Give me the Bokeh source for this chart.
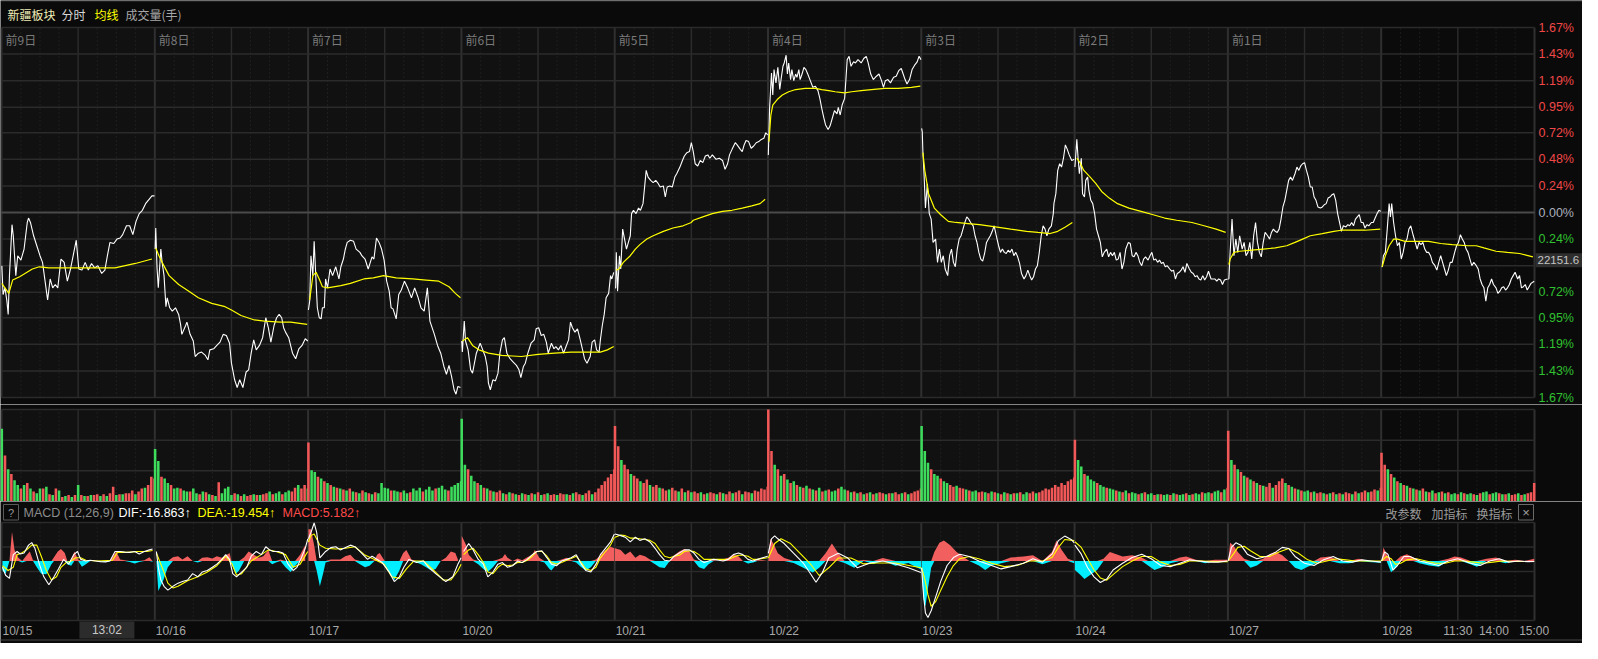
from bokeh.plotting import figure
from bokeh.layouts import column
from bokeh.models import Range1d
from bokeh.core.properties import value
from bokeh.embed import file_html
from bokeh.resources import INLINE

# ---------------- data ----------------
dates = ["10/15", "10/16", "10/17", "10/20", "10/21", "10/22", "10/23", "10/24", "10/27", "10/28"]
day_tags = ["前9日", "前8日", "前7日", "前6日", "前5日", "前4日", "前3日", "前2日", "前1日", ""]
pct_ticks = [1.67, 1.43, 1.19, 0.95, 0.72, 0.48, 0.24, 0.0, -0.24, -0.48, -0.72, -0.95, -1.19, -1.43, -1.67]
last_day_times = ["11:30", "14:00", "15:00"]
last_day_time_min = [120, 150, 240]
hover_day, hover_min, hover_time = 0, 122, "13:02"
hover_price, hover_pct = "22151.6", -0.43
macd_name = "MACD (12,26,9)"
macd_readout = ["DIF:-16.863↑", "DEA:-19.454↑", "MACD:5.182↑"]
header_items = ["新疆板块", "分时", "均线", "成交量(手)"]
macd_buttons = ["改参数", "加指标", "换指标"]

# intraday price, (minute of day, % change vs previous close)
price_1015 = [(0,-0.48),(2,-0.74),(5,-0.68),(8,-0.80),(10,-0.92),(12,-0.57),(16,-0.11),(18,-0.21),(22,-0.57),(25,-0.39),(30,-0.43),(35,-0.33),(40,-0.09),(42,-0.05),(45,-0.09),(50,-0.21),(55,-0.30),(60,-0.39),(64,-0.45),(68,-0.62),(72,-0.79),(76,-0.60),(80,-0.68),(84,-0.65),(88,-0.68),(93,-0.42),(98,-0.45),(103,-0.62),(108,-0.51),(117,-0.25),(121,-0.51),(126,-0.52),(131,-0.45),(136,-0.52),(141,-0.46),(146,-0.50),(151,-0.48),(157,-0.55),(162,-0.52),(166,-0.39),(170,-0.27),(176,-0.28),(181,-0.24),(186,-0.23),(190,-0.20),(196,-0.12),(201,-0.12),(206,-0.20),(211,-0.08),(216,-0.01),(221,0.02),(226,0.08),(236,0.15),(240,0.15)]
price_1016 = [(0,-0.33),(1,-0.14),(3,-0.50),(5,-0.68),(9,-0.33),(11,-0.45),(14,-0.57),(17,-0.85),(19,-0.77),(23,-0.86),(27,-0.89),(32,-0.86),(37,-0.92),(40,-1.01),(42,-1.10),(48,-1.02),(50,-0.99),(55,-1.10),(60,-1.16),(63,-1.30),(68,-1.27),(73,-1.26),(79,-1.29),(83,-1.33),(86,-1.24),(92,-1.23),(97,-1.20),(102,-1.17),(107,-1.10),(112,-1.11),(117,-1.18),(120,-1.36),(125,-1.51),(129,-1.58),(133,-1.51),(138,-1.58),(143,-1.44),(147,-1.42),(151,-1.27),(155,-1.15),(159,-1.24),(164,-1.20),(169,-1.13),(174,-0.95),(178,-1.04),(182,-1.17),(187,-1.02),(191,-0.95),(195,-0.92),(199,-0.95),(202,-1.04),(205,-1.08),(210,-1.13),(216,-1.27),(221,-1.32),(226,-1.23),(231,-1.20),(236,-1.14),(240,-1.16)]
price_1017 = [(0,-0.88),(2,-0.80),(4,-0.39),(7,-0.57),(9,-0.26),(12,-0.62),(14,-0.86),(17,-0.95),(20,-0.96),(22,-0.86),(25,-0.86),(27,-0.60),(30,-0.68),(34,-0.51),(38,-0.57),(43,-0.49),(48,-0.60),(51,-0.49),(55,-0.42),(58,-0.33),(61,-0.27),(66,-0.25),(71,-0.26),(75,-0.33),(81,-0.36),(84,-0.39),(89,-0.42),(94,-0.51),(100,-0.40),(103,-0.42),(107,-0.23),(111,-0.27),(115,-0.33),(119,-0.43),(123,-0.62),(127,-0.71),(130,-0.86),(133,-0.87),(138,-0.96),(142,-0.74),(146,-0.70),(151,-0.62),(156,-0.68),(162,-0.77),(167,-0.68),(172,-0.76),(177,-0.86),(182,-0.89),(187,-0.68),(191,-0.98),(198,-1.10),(203,-1.20),(208,-1.27),(213,-1.39),(217,-1.46),(221,-1.38),(225,-1.48),(229,-1.60),(232,-1.64),(235,-1.57),(239,-1.58)]
price_1020 = [(0,-1.16),(1,-1.26),(4,-0.98),(6,-1.16),(10,-1.24),(14,-1.42),(17,-1.45),(19,-1.39),(23,-1.27),(27,-1.21),(29,-1.18),(33,-1.24),(37,-1.30),(40,-1.39),(42,-1.54),(45,-1.60),(49,-1.51),(53,-1.52),(57,-1.45),(60,-1.27),(64,-1.15),(67,-1.13),(71,-1.27),(76,-1.32),(81,-1.35),(86,-1.38),(90,-1.42),(93,-1.49),(97,-1.39),(100,-1.36),(104,-1.27),(109,-1.18),(114,-1.15),(117,-1.05),(121,-1.04),(125,-1.11),(129,-1.10),(133,-1.17),(136,-1.27),(141,-1.18),(145,-1.23),(148,-1.21),(152,-1.24),(156,-1.20),(160,-1.27),(164,-1.21),(168,-1.15),(171,-0.99),(174,-1.04),(178,-1.08),(182,-1.05),(186,-1.14),(190,-1.24),(193,-1.32),(197,-1.36),(202,-1.30),(205,-1.17),(209,-1.15),(212,-1.24),(216,-1.26),(218,-1.15),(221,-1.02),(224,-0.92),(227,-0.77),(231,-0.73),(234,-0.57),(236,-0.60),(239,-0.54)]
price_1021 = [(0,-0.68),(1,-0.68),(2,-0.36),(4,-0.71),(7,-0.39),(9,-0.51),(12,-0.15),(15,-0.24),(18,-0.33),(21,-0.27),(24,-0.21),(26,-0.01),(29,0.02),(33,-0.01),(37,0.04),(40,0.02),(44,0.08),(46,0.20),(49,0.38),(52,0.32),(56,0.29),(60,0.27),(64,0.29),(68,0.26),(71,0.23),(76,0.24),(79,0.14),(82,0.23),(86,0.24),(90,0.23),(94,0.32),(97,0.35),(102,0.41),(106,0.47),(109,0.51),(113,0.54),(117,0.55),(120,0.63),(123,0.55),(126,0.44),(130,0.42),(134,0.47),(138,0.45),(142,0.51),(146,0.52),(149,0.49),(153,0.52),(159,0.48),(164,0.49),(169,0.47),(173,0.39),(177,0.44),(180,0.52),(184,0.57),(189,0.63),(192,0.61),(197,0.57),(200,0.55),(203,0.61),(206,0.65),(210,0.64),(214,0.58),(218,0.60),(222,0.63),(226,0.64),(230,0.66),(234,0.67),(237,0.72),(240,0.70)]
price_1022 = [(0,0.52),(2,0.94),(5,1.26),(7,1.06),(9,1.29),(12,1.17),(15,1.31),(18,1.11),(20,1.20),(23,1.32),(25,1.35),(28,1.42),(30,1.25),(32,1.35),(35,1.20),(37,1.29),(40,1.19),(43,1.25),(45,1.22),(48,1.29),(50,1.20),(53,1.25),(56,1.31),(59,1.29),(62,1.25),(66,1.19),(70,1.13),(74,1.14),(78,1.10),(81,1.03),(84,0.94),(87,0.86),(90,0.79),(94,0.75),(97,0.78),(101,0.86),(104,0.92),(108,0.89),(110,0.95),(113,0.88),(116,0.97),(120,1.03),(122,1.20),(124,1.38),(127,1.41),(130,1.32),(134,1.36),(137,1.35),(141,1.38),(146,1.35),(150,1.39),(154,1.41),(157,1.35),(161,1.25),(165,1.20),(170,1.23),(174,1.25),(178,1.19),(181,1.13),(184,1.19),(188,1.20),(192,1.17),(197,1.22),(201,1.23),(205,1.28),(209,1.30),(212,1.25),(215,1.20),(218,1.16),(222,1.20),(226,1.29),(230,1.33),(234,1.36),(237,1.41),(240,1.38)]
price_1023 = [(0,0.76),(1,0.73),(2,0.55),(4,0.32),(6,0.04),(9,0.26),(12,-0.01),(15,-0.06),(18,-0.27),(22,-0.24),(25,-0.45),(28,-0.33),(31,-0.45),(34,-0.39),(37,-0.51),(41,-0.57),(44,-0.39),(47,-0.33),(50,-0.45),(53,-0.49),(56,-0.33),(59,-0.24),(62,-0.21),(65,-0.15),(68,-0.09),(71,-0.04),(74,-0.06),(77,-0.09),(81,-0.12),(84,-0.21),(87,-0.27),(90,-0.36),(93,-0.42),(96,-0.44),(99,-0.37),(102,-0.27),(105,-0.24),(108,-0.21),(111,-0.17),(114,-0.12),(117,-0.20),(121,-0.30),(124,-0.36),(127,-0.33),(130,-0.36),(133,-0.37),(136,-0.34),(139,-0.36),(142,-0.33),(145,-0.39),(148,-0.36),(151,-0.40),(154,-0.46),(157,-0.55),(161,-0.60),(164,-0.57),(167,-0.52),(170,-0.57),(173,-0.61),(176,-0.58),(179,-0.51),(182,-0.48),(185,-0.36),(188,-0.21),(191,-0.12),(194,-0.15),(197,-0.21),(200,-0.15),(204,-0.12),(207,-0.01),(208,0.08),(211,0.17),(214,0.38),(217,0.44),(220,0.41),(223,0.49),(226,0.61),(229,0.57),(232,0.52),(236,0.47),(240,0.48)]
price_1024 = [(0,0.41),(3,0.66),(5,0.49),(7,0.35),(10,0.49),(12,0.17),(15,0.14),(17,0.29),(20,0.32),(22,0.20),(25,0.11),(28,0.08),(31,-0.01),(34,-0.15),(37,-0.21),(40,-0.27),(43,-0.40),(46,-0.36),(50,-0.33),(53,-0.40),(56,-0.36),(59,-0.39),(62,-0.36),(65,-0.43),(68,-0.42),(71,-0.36),(74,-0.51),(77,-0.45),(80,-0.33),(84,-0.27),(87,-0.28),(90,-0.39),(93,-0.40),(96,-0.36),(99,-0.39),(102,-0.45),(105,-0.48),(108,-0.42),(111,-0.40),(115,-0.43),(118,-0.39),(121,-0.36),(124,-0.43),(127,-0.42),(130,-0.45),(133,-0.43),(136,-0.46),(139,-0.45),(142,-0.49),(145,-0.48),(149,-0.51),(152,-0.53),(155,-0.52),(158,-0.60),(161,-0.55),(164,-0.54),(167,-0.52),(170,-0.49),(173,-0.54),(176,-0.46),(180,-0.51),(183,-0.54),(186,-0.55),(189,-0.58),(192,-0.57),(195,-0.60),(198,-0.61),(201,-0.57),(204,-0.61),(207,-0.58),(210,-0.53),(214,-0.60),(217,-0.60),(220,-0.60),(223,-0.62),(226,-0.60),(229,-0.61),(232,-0.65),(235,-0.61),(240,-0.60)]
price_1027 = [(0,-0.60),(1,-0.60),(3,-0.36),(6,-0.06),(9,-0.39),(12,-0.24),(15,-0.36),(18,-0.21),(22,-0.33),(25,-0.27),(28,-0.39),(31,-0.36),(34,-0.27),(37,-0.42),(40,-0.21),(43,-0.09),(46,-0.27),(49,-0.36),(52,-0.40),(55,-0.27),(58,-0.18),(62,-0.21),(65,-0.24),(68,-0.18),(71,-0.15),(74,-0.17),(77,-0.18),(80,-0.15),(83,-0.06),(86,0.05),(89,0.11),(92,0.20),(95,0.29),(98,0.32),(101,0.29),(105,0.35),(108,0.41),(111,0.38),(114,0.42),(117,0.44),(120,0.45),(123,0.38),(126,0.32),(129,0.23),(132,0.23),(135,0.14),(138,0.11),(141,0.05),(145,0.04),(148,0.05),(151,0.07),(154,0.08),(157,0.13),(160,0.14),(163,0.16),(166,0.17),(169,0.11),(172,-0.01),(175,-0.09),(178,-0.17),(181,-0.12),(185,-0.13),(188,-0.11),(191,-0.12),(194,-0.09),(197,-0.12),(200,-0.06),(203,-0.04),(206,-0.02),(209,-0.09),(212,-0.09),(215,-0.14),(218,-0.11),(221,-0.12),(225,-0.09),(228,-0.09),(231,-0.05),(234,-0.01),(237,0.02),(240,0.01)]
price_1028 = [(0,-0.49),(1,-0.49),(3,-0.39),(6,-0.36),(9,-0.15),(12,0.08),(14,-0.04),(16,0.08),(19,-0.09),(22,-0.21),(25,-0.30),(28,-0.27),(31,-0.42),(34,-0.36),(37,-0.27),(40,-0.24),(43,-0.15),(46,-0.12),(50,-0.21),(53,-0.27),(56,-0.33),(59,-0.27),(62,-0.29),(65,-0.27),(68,-0.33),(71,-0.36),(74,-0.36),(77,-0.39),(80,-0.45),(84,-0.48),(87,-0.52),(90,-0.45),(93,-0.39),(96,-0.45),(99,-0.51),(102,-0.57),(105,-0.52),(108,-0.45),(111,-0.45),(115,-0.36),(118,-0.30),(121,-0.27),(124,-0.20),(127,-0.24),(130,-0.27),(133,-0.33),(136,-0.36),(139,-0.42),(142,-0.48),(145,-0.45),(149,-0.48),(152,-0.51),(155,-0.60),(158,-0.65),(161,-0.68),(164,-0.80),(167,-0.68),(170,-0.65),(173,-0.60),(176,-0.65),(180,-0.68),(183,-0.73),(186,-0.71),(189,-0.68),(192,-0.67),(195,-0.70),(198,-0.68),(201,-0.65),(204,-0.60),(207,-0.57),(210,-0.54),(214,-0.60),(217,-0.57),(220,-0.68),(223,-0.67),(226,-0.65),(229,-0.70),(232,-0.67),(235,-0.64),(240,-0.62)]

# average price line (均线), % change
avg_1015 = [(0,-0.64),(11,-0.73),(17,-0.61),(28,-0.58),(48,-0.51),(59,-0.49),(74,-0.50),(126,-0.50),(178,-0.50),(210,-0.46),(236,-0.42)]
avg_1016 = [(1,-0.32),(6,-0.39),(11,-0.45),(22,-0.57),(37,-0.65),(53,-0.71),(68,-0.77),(89,-0.82),(110,-0.85),(120,-0.88),(135,-0.93),(156,-0.97),(172,-0.98),(197,-0.99),(213,-0.99),(239,-1.01)]
avg_1017 = [(2,-0.79),(7,-0.57),(12,-0.54),(17,-0.60),(22,-0.67),(30,-0.68),(51,-0.66),(66,-0.64),(87,-0.60),(102,-0.59),(118,-0.57),(138,-0.59),(164,-0.60),(185,-0.61),(205,-0.62),(221,-0.67),(231,-0.73),(239,-0.77)]
avg_1020 = [(1,-1.16),(9,-1.13),(17,-1.20),(27,-1.24),(42,-1.27),(63,-1.29),(94,-1.30),(120,-1.28),(146,-1.27),(172,-1.26),(197,-1.26),(218,-1.26),(229,-1.24),(239,-1.21)]
avg_1021 = [(2,-0.52),(6,-0.51),(13,-0.45),(24,-0.39),(32,-0.33),(39,-0.29),(50,-0.24),(60,-0.21),(76,-0.17),(91,-0.14),(107,-0.12),(120,-0.09),(123,-0.07),(138,-0.04),(153,-0.01),(169,0.01),(184,0.02),(200,0.04),(215,0.06),(228,0.08),(236,0.12)]
avg_1022 = [(1,0.64),(4,0.88),(7,0.97),(14,1.02),(22,1.06),(32,1.09),(43,1.11),(58,1.12),(74,1.12),(84,1.11),(95,1.10),(105,1.09),(120,1.08),(131,1.09),(146,1.10),(162,1.11),(183,1.12),(204,1.12),(225,1.13),(239,1.14)]
avg_1023 = [(2,0.54),(5,0.38),(11,0.17),(20,0.04),(30,-0.02),(42,-0.08),(54,-0.09),(73,-0.10),(91,-0.11),(116,-0.13),(140,-0.15),(165,-0.17),(183,-0.18),(202,-0.19),(214,-0.17),(226,-0.13),(237,-0.09)]
avg_1024 = [(3,0.49),(8,0.45),(14,0.38),(24,0.32),(33,0.26),(42,0.19),(54,0.13),(67,0.08),(85,0.04),(104,0.01),(123,-0.02),(141,-0.05),(160,-0.07),(184,-0.09),(203,-0.12),(222,-0.15),(237,-0.18)]
avg_1027 = [(1,-0.47),(3,-0.42),(9,-0.36),(18,-0.35),(37,-0.34),(55,-0.33),(74,-0.32),(92,-0.30),(105,-0.27),(117,-0.24),(129,-0.21),(148,-0.19),(166,-0.17),(178,-0.16),(191,-0.16),(215,-0.16),(239,-0.15)]
avg_1028 = [(1,-0.49),(6,-0.39),(12,-0.30),(19,-0.24),(25,-0.24),(37,-0.26),(56,-0.26),(74,-0.26),(93,-0.28),(111,-0.29),(136,-0.30),(149,-0.30),(161,-0.32),(180,-0.35),(198,-0.36),(217,-0.37),(238,-0.40)]

# volume every 5 minutes (share of panel height; + = up/red, - = down/green)
vol_1015 = [-79,50,-35,30,-23,-18,14,-18,20,-14,11,-9,-14,14,-16,8,-7,14,-12,5,-6,7,-5,7,-18,7,-6,6,-7,7,8,-6,8,-6,9,16,-7,8,-8,9,9,12,-8,11,14,-15,18,27,25]
vol_1016 = [-57,-44,27,-25,-20,18,-14,-15,14,-12,-11,11,-14,-9,8,-11,10,-8,7,-6,21,-9,-14,-16,-7,9,-8,6,-8,6,7,-8,7,-7,8,9,-11,8,-9,-11,8,-10,-12,11,15,-18,14,18,-14]
vol_1017 = [64,-34,-32,27,-25,22,-20,18,-16,15,-14,13,-12,14,-11,10,-9,12,-10,9,-8,10,-9,-20,-15,-14,12,-12,-11,10,-12,-9,10,-14,-12,-15,11,-13,-16,-12,14,-15,-17,-13,12,-16,-18,-20,-22]
vol_1020 = [-90,-40,35,-28,-22,20,-18,15,-14,12,-11,10,12,-9,8,-10,9,-8,7,-9,8,-7,9,-8,10,-7,8,-9,7,8,-7,9,8,-8,7,-9,10,8,-7,9,12,-8,10,14,18,22,26,30,35]
vol_1021 = [82,60,-45,40,35,-30,28,25,-22,20,24,-18,16,18,-15,14,12,-13,15,12,-11,14,-10,12,-10,11,9,-10,8,-9,10,9,-8,10,-9,8,11,-9,10,12,-8,11,10,-9,12,11,14,13,16]
vol_1022 = [100,55,-40,35,-28,30,-24,20,-22,18,-16,15,-17,14,-13,12,-15,11,-12,13,-11,-12,14,-16,-13,12,-10,11,-9,10,-8,9,-10,8,-9,10,9,-8,9,-9,10,8,-9,10,-8,9,11,12,14]
vol_1023 = [-82,-55,-42,35,-30,-28,25,-22,-20,18,16,-17,15,14,-13,12,-11,-12,10,11,-10,9,-11,10,-9,8,-10,9,-8,9,-9,10,-8,-10,9,11,-9,10,12,14,13,15,18,16,20,18,22,24,26]
vol_1024 = [67,-45,-38,30,-28,-24,-22,20,-18,-16,15,-14,-13,12,-11,10,-12,9,-10,-9,8,-9,10,-8,-9,7,-8,8,-7,-8,7,-9,8,-7,-8,9,-7,8,-9,-8,10,-9,-10,9,-11,-12,10,-13,15]
vol_1027 = [77,-45,40,-35,32,-28,26,-24,22,-20,18,-17,16,20,-15,18,22,25,-20,18,-16,14,-13,12,-11,-12,10,-11,9,10,-9,8,-9,10,-8,9,-8,10,9,-8,11,-9,10,12,-10,11,13,-12,15]
vol_1028 = [53,40,-35,30,-26,22,-20,18,-17,15,-14,13,-12,14,-11,10,-12,9,-10,11,-9,10,-8,-9,8,-10,9,-8,-9,8,-7,9,-10,-11,8,-9,-10,9,-8,8,-9,7,8,-9,7,-8,9,10,20]

# MACD: (minute, value)
dif_1015 = [(1,-28),(6,-63),(12,-77),(18,28),(24,42),(29,31),(35,35),(42,70),(47,81),(52,56),(59,-14),(66,-70),(74,-105),(82,-70),(89,-35),(97,7),(105,-14),(113,28),(119,42),(124,7),(132,0),(139,3),(147,0),(155,-3),(163,-4),(170,0),(178,42),(186,42),(193,39),(201,38),(209,42),(216,31),(224,42),(232,49),(237,53)]
dea_1015 = [(1,-21),(10,-42),(18,-28),(24,28),(31,35),(39,49),(47,70),(55,70),(62,21),(70,-42),(78,-84),(86,-70),(93,-28),(101,-7),(109,0),(116,14),(124,14),(132,3),(151,0),(174,3),(182,39),(197,38),(213,42),(228,42),(237,46)]
hist_1015 = [(1,-42),(6,-56),(12,0),(16,129),(20,49),(26,14),(32,-7),(39,25),(44,42),(49,3),(55,-28),(62,-56),(70,-59),(78,-14),(82,17),(88,42),(93,53),(99,35),(103,-14),(109,-21),(114,42),(120,7),(126,-25),(132,-14),(139,3),(151,0),(163,-4),(170,0),(176,28),(180,42),(186,7),(193,3),(201,-4),(209,-11),(216,-4),(224,3),(232,17),(237,-3)]
dif_1016 = [(2,42),(5,-28),(9,-84),(14,-112),(20,-129),(28,-112),(36,-98),(43,-91),(51,-84),(59,-56),(67,-70),(74,-49),(82,-42),(90,-28),(97,-14),(105,7),(111,28),(117,7),(122,-56),(128,-70),(136,-49),(144,-28),(151,21),(159,42),(167,28),(174,63),(180,49),(186,42),(194,42),(201,35),(209,-14),(217,-42),(223,-28),(230,14),(236,56),(240,98)]
dea_1016 = [(2,35),(13,-42),(20,-98),(28,-119),(36,-112),(51,-87),(67,-70),(82,-49),(97,-21),(111,21),(121,-14),(128,-63),(136,-56),(151,0),(167,28),(178,49),(190,42),(205,28),(217,-28),(228,-14),(240,42)]
hist_1016 = [(2,0),(5,-133),(13,-84),(20,-28),(28,17),(36,21),(43,7),(51,21),(59,0),(67,-7),(74,14),(82,17),(90,11),(97,21),(105,14),(113,28),(117,35),(120,-14),(127,-56),(132,-42),(140,17),(147,42),(155,28),(163,14),(170,21),(178,49),(184,-14),(190,-7),(197,7),(205,-28),(213,-49),(220,-21),(228,28),(236,70)]
dif_1017 = [(0,98),(4,126),(9,168),(13,126),(18,14),(27,42),(35,59),(43,63),(50,49),(66,70),(73,63),(81,42),(93,7),(100,21),(116,-7),(127,-49),(135,-91),(143,-70),(150,-28),(158,7),(170,-7),(181,0),(189,-28),(200,-56),(216,-91),(227,-70),(235,-14),(240,14)]
dea_1017 = [(0,84),(4,112),(9,119),(18,70),(27,56),(43,53),(58,56),(73,63),(88,28),(104,7),(119,-14),(131,-70),(143,-77),(154,-35),(166,0),(181,0),(197,-42),(212,-84),(224,-84),(235,-42),(240,-14)]
hist_1017 = [(0,140),(4,140),(9,70),(13,-42),(18,-112),(23,-56),(27,-7),(35,7),(50,7),(58,21),(66,28),(73,7),(81,-14),(89,-28),(96,-21),(104,3),(108,28),(112,35),(120,-14),(127,-49),(135,-84),(143,-42),(149,35),(154,49),(162,7),(170,-7),(177,-14),(185,-28),(193,-42),(200,-35),(208,0),(216,14),(224,42),(231,35),(235,7)]
dif_1020 = [(3,42),(11,77),(18,49),(26,7),(34,-14),(41,-70),(49,-49),(57,-14),(64,-7),(72,-28),(80,-21),(88,0),(95,-7),(103,7),(111,28),(118,42),(126,45),(134,14),(141,-14),(149,-21),(157,0),(165,7),(172,14),(180,28),(188,-14),(195,-42),(203,-49),(211,-14),(218,28),(226,56),(234,84),(240,119)]
dea_1020 = [(3,28),(11,49),(18,56),(26,28),(34,-7),(41,-49),(49,-56),(57,-28),(64,-14),(72,-21),(80,-18),(88,-7),(95,-7),(103,3),(111,21),(118,42),(126,42),(134,21),(141,-7),(149,-14),(157,-7),(165,3),(172,11),(180,21),(188,-7),(195,-35),(203,-42),(211,-28),(218,14),(226,42),(234,70),(240,105)]
hist_1020 = [(0,112),(7,70),(11,28),(18,7),(26,-14),(34,-35),(37,-42),(41,-49),(49,-28),(57,7),(64,14),(68,31),(72,14),(80,0),(88,11),(95,3),(103,17),(111,28),(115,49),(122,14),(130,-7),(138,-35),(141,-42),(149,-14),(157,7),(165,14),(172,3),(180,-7),(188,-28),(195,-42),(203,-28),(211,7),(218,25),(226,49),(234,63),(240,56)]
dif_1021 = [(0,119),(9,112),(16,105),(24,84),(32,105),(39,91),(47,98),(55,84),(63,56),(70,28),(78,3),(86,0),(93,21),(101,35),(109,49),(117,49),(124,35),(132,7),(140,-7),(147,0),(155,7),(163,3),(170,0),(178,7),(186,28),(194,35),(201,28),(209,7),(217,0),(224,7),(232,14),(240,21)]
dea_1021 = [(0,105),(9,115),(16,112),(24,101),(32,101),(39,98),(47,95),(55,91),(63,77),(70,49),(78,21),(86,14),(93,21),(101,25),(109,42),(117,45),(124,42),(132,28),(140,7),(147,7),(155,7),(163,7),(170,7),(178,7),(186,17),(194,25),(201,25),(209,21),(217,7),(224,7),(232,11),(240,14)]
hist_1021 = [(0,56),(9,49),(16,28),(24,42),(32,14),(39,28),(47,21),(55,7),(63,-14),(70,-28),(78,-31),(86,0),(93,25),(101,42),(109,53),(117,42),(124,7),(132,-28),(140,-35),(147,-14),(155,3),(163,0),(170,8),(178,14),(186,28),(194,21),(201,0),(209,-11),(217,-7),(224,3),(232,3),(240,0)]
dif_1022 = [(0,34),(5,98),(10,111),(15,98),(25,77),(40,34),(55,-9),(65,-51),(75,-94),(85,-51),(95,13),(110,34),(125,13),(140,-30),(160,-9),(180,0),(200,-13),(220,-30),(240,-51)]
dea_1022 = [(0,13),(10,77),(20,98),(35,77),(50,34),(65,-9),(80,-64),(95,-30),(110,13),(130,13),(150,-13),(170,-9),(200,-9),(240,-30)]
hist_1022 = [(0,0),(3,98),(8,77),(15,34),(25,13),(40,-9),(55,-30),(70,-51),(80,-30),(90,34),(100,77),(110,34),(120,-9),(135,-30),(150,4),(165,-13),(180,13),(200,-21),(220,-9),(240,-38)]
dif_1023 = [(0,-30),(3,-150),(6,-230),(10,-250),(15,-220),(22,-160),(30,-90),(40,-20),(50,15),(60,30),(75,20),(90,0),(110,-20),(125,-35),(140,-25),(160,-10),(175,10),(190,-5),(205,30),(215,90),(225,110),(235,95),(240,80)]
dea_1023 = [(0,-30),(5,-80),(10,-150),(15,-200),(22,-180),(30,-130),(40,-70),(50,-20),(60,10),(75,20),(90,10),(110,-10),(130,-25),(150,-20),(170,0),(190,0),(205,15),(215,60),(225,95),(240,90)]
hist_1023 = [(0,-40),(3,-170),(6,-200),(10,-120),(15,-30),(20,40),(28,80),(35,90),(45,70),(55,40),(65,20),(75,0),(90,-20),(100,-40),(110,-20),(125,-10),(140,15),(160,20),(175,25),(190,-15),(205,40),(212,90),(220,50),(230,10),(240,-10)]
dif_1024 = [(0,70),(10,30),(20,-30),(30,-70),(40,-95),(50,-80),(60,-40),(75,-10),(90,15),(105,30),(120,10),(135,-20),(150,-25),(165,-10),(180,5),(195,0),(210,-5),(225,-5),(240,0)]
dea_1024 = [(0,85),(10,60),(20,10),(30,-40),(40,-75),(50,-85),(60,-60),(75,-25),(90,0),(105,20),(120,20),(135,-5),(150,-20),(165,-15),(180,0),(200,0),(220,-3),(240,-3)]
hist_1024 = [(0,-40),(8,-60),(15,-80),(25,-60),(35,-40),(45,10),(55,40),(65,30),(75,20),(90,25),(105,15),(115,-20),(125,-40),(135,-30),(150,-10),(165,15),(175,20),(190,5),(205,-10),(220,5),(240,5)]
dif_1027 = [(0,0),(5,60),(12,80),(20,70),(30,30),(45,10),(60,20),(75,40),(85,60),(95,55),(105,20),(120,-10),(135,-20),(150,5),(165,20),(180,0),(195,-5),(210,5),(225,0),(240,-5)]
dea_1027 = [(0,0),(8,30),(15,60),(25,65),(35,45),(50,20),(65,20),(80,40),(95,55),(110,35),(125,5),(140,-10),(155,0),(170,10),(185,5),(200,0),(220,0),(240,0)]
hist_1027 = [(0,0),(3,80),(8,70),(15,40),(25,10),(35,-30),(45,-20),(55,10),(65,30),(75,40),(85,25),(95,0),(105,-30),(115,-40),(125,-25),(135,-15),(145,15),(160,20),(175,-10),(190,-10),(205,10),(220,-5),(240,-8)]
dif_1028 = [(0,0),(5,40),(10,30),(18,-40),(25,-20),(35,20),(45,20),(60,0),(75,-10),(90,-20),(105,0),(120,10),(140,-10),(155,-20),(170,0),(185,10),(200,-5),(215,0),(230,-3),(240,-2)]
dea_1028 = [(0,0),(8,20),(15,10),(22,-15),(30,-10),(40,5),(55,10),(70,0),(85,-10),(100,-10),(115,0),(130,0),(145,-5),(160,-10),(175,-5),(190,0),(210,-2),(240,-2)]
hist_1028 = [(0,0),(3,60),(8,30),(15,-50),(22,-30),(30,20),(40,30),(50,15),(60,-10),(75,-20),(90,-25),(105,10),(115,20),(125,15),(140,-15),(150,-25),(165,10),(180,15),(195,-10),(210,5),(225,-5),(240,10)]

price_days = [price_1015, price_1016, price_1017, price_1020, price_1021, price_1022, price_1023, price_1024, price_1027, price_1028]
avg_days = [avg_1015, avg_1016, avg_1017, avg_1020, avg_1021, avg_1022, avg_1023, avg_1024, avg_1027, avg_1028]
vol_days = [vol_1015, vol_1016, vol_1017, vol_1020, vol_1021, vol_1022, vol_1023, vol_1024, vol_1027, vol_1028]
dif_days = [dif_1015, dif_1016, dif_1017, dif_1020, dif_1021, dif_1022, dif_1023, dif_1024, dif_1027, dif_1028]
dea_days = [dea_1015, dea_1016, dea_1017, dea_1020, dea_1021, dea_1022, dea_1023, dea_1024, dea_1027, dea_1028]
hist_days = [hist_1015, hist_1016, hist_1017, hist_1020, hist_1021, hist_1022, hist_1023, hist_1024, hist_1027, hist_1028]

# ---------------- layout ----------------
W = 1582
DAY = 241
NDAYS = len(dates)
XEND = NDAYS * DAY - 0.5
K = 1533.0 / (NDAYS * DAY)       # px per minute
U = 1.0 / K
xr = Range1d(-0.5 - U, -0.5 + (W - 1) * U)
def X(px):
    return -0.5 + (px - 1) * U
def gx(d, m):
    return d * DAY + m

CJK = value("Noto Sans CJK SC")
SANS = value("Liberation Sans")
BG_OUT = "#0a0a0a"
BG_PANEL = "#111111"
BG_TODAY = "#0b0b0b"
GRID = "#2b2b2b"
GRID_DAY = "#303030"
DOT = "#2c2c2c"
RED_T = "#f04848"
GREEN_T = "#30c030"
VOL_RED = "#f25858"
VOL_GREEN = "#3ddc5c"
HIST_RED = "#f25f5f"
CYAN = "#00eeff"

def mkfig(h, yr):
    p = figure(width=W, height=h, x_range=xr, y_range=yr, output_backend="svg",
               toolbar_location=None, tools="", min_border=0,
               x_axis_type=None, y_axis_type=None,
               background_fill_color=BG_OUT, border_fill_color=BG_OUT,
               outline_line_color=None)
    return p

def panel_grid(p, ybot, ytop):
    p.quad(left=[-0.5], right=[XEND], bottom=[ybot], top=[ytop], fill_color=BG_PANEL, line_color=None)
    p.quad(left=[(NDAYS - 1) * DAY - 0.5], right=[XEND], bottom=[ybot], top=[ytop], fill_color=BG_TODAY, line_color=None)
    dots = [gx(d, m) for d in range(NDAYS) for m in (30, 60, 90, 150, 180, 210)]
    p.segment(x0=dots, x1=dots, y0=ybot, y1=ytop, line_color=DOT, line_width=1, line_dash="1 3")
    mids = [gx(d, 120) for d in range(NDAYS)]
    p.segment(x0=mids, x1=mids, y0=ybot, y1=ytop, line_color=GRID, line_width=1.5)
    bnd = [d * DAY - 0.5 for d in range(NDAYS + 1)]
    p.segment(x0=bnd, x1=bnd, y0=ybot, y1=ytop, line_color=GRID_DAY, line_width=2)

# ---------- Figure A: header + price ----------
HA = 404
PT, PB = 27, 397
ua = 3.34 / (PB - PT)
yrA = Range1d(-1.67 - (HA - PB) * ua, 1.67 + PT * ua)
def YA(row):
    return 1.67 + (PT - row) * ua

pA = mkfig(HA, yrA)
pA.segment(x0=[X(0)], x1=[X(W)], y0=[YA(0.5)], y1=[YA(0.5)], line_color="#333333", line_width=1)
panel_grid(pA, -1.67, 1.67)
hticks = [t for t in pct_ticks if t != 0.0]
pA.segment(x0=-0.5, x1=XEND, y0=hticks, y1=hticks, line_color=GRID, line_width=1.5)
pA.segment(x0=[-0.5], x1=[XEND], y0=[0.0], y1=[0.0], line_color="#4a4a4a", line_width=2)

# header
hx = [X(7), X(61), X(94), X(125)]
hcol = ["#f2eeb8", "#d8d8d8", "#ffff00", "#a8a8a8"]
pA.text(x=hx, y=[YA(14)] * 4, text=header_items, text_font=CJK, text_font_size="12px",
        text_color=hcol, text_baseline="middle", text_align="left")

# day tags
tx = [gx(d, 0) - 0.5 + 4 * U for d in range(NDAYS)]
pA.text(x=tx, y=[YA(39)] * NDAYS, text=day_tags, text_font=CJK, text_font_size="12px",
        text_color="#7a7a7a", text_baseline="middle", text_align="left")

for d in range(NDAYS):
    pts = price_days[d]
    pA.line([gx(d, m) for m, _ in pts], [v for _, v in pts], line_color="#ffffff", line_width=1.1)
    av = avg_days[d]
    pA.line([gx(d, m) for m, _ in av], [v for _, v in av], line_color="#ffff00", line_width=1.2)

# right scale labels
show = [t for t in pct_ticks if abs(t - hover_pct) > 0.1]
lab = ["%.2f%%" % abs(t) for t in show]
lcol = [RED_T if t > 0 else (GREEN_T if t < 0 else "#aab0bd") for t in show]
pA.text(x=[X(1538)] * len(show), y=show, text=lab, text_font=SANS, text_font_size="12.5px",
        text_color=lcol, text_baseline="middle", text_align="left")
pA.quad(left=[X(1535)], right=[X(W + 4)], bottom=[hover_pct - 7 * ua], top=[hover_pct + 7 * ua],
        fill_color="#2e2e2e", line_color=None)
pA.text(x=[X(1537)], y=[hover_pct], text=[hover_price], text_font=SANS, text_font_size="11.5px",
        text_color="#c4c4c4", text_baseline="middle", text_align="left")

# ---------- Figure B: volume ----------
HB = 97
VT = 5
ub = 100.0 / (HB - VT)
yrB = Range1d(0, 100 + VT * ub)
pB = mkfig(HB, yrB)
panel_grid(pB, 0, 100)
pB.segment(x0=-0.5, x1=XEND, y0=[100 / 3.0, 200 / 3.0, 100], y1=[100 / 3.0, 200 / 3.0, 100],
           line_color=GRID, line_width=1.5)
vx, vt, vc = [], [], []
for d in range(NDAYS):
    for i, v in enumerate(vol_days[d]):
        vx.append(gx(d, 5 * i))
        vt.append(abs(v))
        vc.append(VOL_RED if v > 0 else VOL_GREEN)
pB.vbar(x=vx, top=vt, bottom=0, width=4.0, fill_color=vc, line_color=None)

# ---------- Figure C: MACD header + MACD + time axis ----------
HC = 142
MT, MB = 21, 119
MTOP, MBOT = 170.0, -263.0
uc = (MTOP - MBOT) / (MB - MT)
yrC = Range1d(MBOT - (HC - MB) * uc, MTOP + MT * uc)
def YC(row):
    return MTOP + (MT - row) * uc

pC = mkfig(HC, yrC)
panel_grid(pC, MBOT, MTOP)
mlev = [MTOP - i * (MTOP - MBOT) / 4.0 for i in range(5)]
pC.segment(x0=-0.5, x1=XEND, y0=mlev, y1=mlev, line_color=GRID, line_width=1.5)

for d in range(NDAYS):
    hs = hist_days[d]
    hx_ = [gx(d, m) for m, _ in hs]
    pC.varea(x=hx_, y1=0, y2=[max(v, 0) for _, v in hs], fill_color=HIST_RED)
    pC.varea(x=hx_, y1=0, y2=[min(v, 0) for _, v in hs], fill_color=CYAN)
for d in range(NDAYS):
    a = dea_days[d]
    pC.line([gx(d, m) for m, _ in a], [v for _, v in a], line_color="#ffff00", line_width=1.1)
    b = dif_days[d]
    pC.line([gx(d, m) for m, _ in b], [v for _, v in b], line_color="#ffffff", line_width=1.1)

# MACD header
pC.quad(left=[X(3)], right=[X(18)], bottom=[YC(18.5)], top=[YC(3)], fill_color=BG_OUT, line_color="#5a5a5a")
pC.text(x=[X(10.5)], y=[YC(11)], text=["?"], text_font=SANS, text_font_size="11px",
        text_color="#9a9a9a", text_baseline="middle", text_align="center")
pC.text(x=[X(23), X(118), X(197), X(282)], y=[YC(11.5)] * 4,
        text=[macd_name] + macd_readout, text_font=SANS, text_font_size="12.5px",
        text_color=["#8c8c8c", "#ffffff", "#ffff00", "#ff4a4a"], text_baseline="middle", text_align="left")
pC.text(x=[X(1385), X(1431), X(1476)], y=[YC(11.5)] * 3, text=macd_buttons, text_font=CJK,
        text_font_size="12px", text_color="#9a9a9a", text_baseline="middle", text_align="left")
pC.quad(left=[X(1518)], right=[X(1533)], bottom=[YC(18.5)], top=[YC(3)], fill_color=BG_OUT, line_color="#6a6a6a")
pC.text(x=[X(1525.5)], y=[YC(11)], text=["×"], text_font=SANS, text_font_size="13px",
        text_color="#a0a0a0", text_baseline="middle", text_align="center")

# time axis labels
dx = [gx(d, 0) - 0.5 + 1 * U for d in range(NDAYS)]
pC.text(x=dx, y=[YC(129)] * NDAYS, text=dates, text_font=SANS, text_font_size="12px",
        text_color="#a8a8a8", text_baseline="middle", text_align="left")
last = NDAYS - 1
pC.text(x=[gx(last, last_day_time_min[0])], y=[YC(129)], text=[last_day_times[0]], text_font=SANS,
        text_font_size="12px", text_color="#a8a8a8", text_baseline="middle", text_align="center")
pC.text(x=[gx(last, last_day_time_min[1]) + 2 * U], y=[YC(129)], text=[last_day_times[1]], text_font=SANS,
        text_font_size="12px", text_color="#a8a8a8", text_baseline="middle", text_align="left")
pC.text(x=[gx(last, last_day_time_min[2])], y=[YC(129)], text=[last_day_times[2]], text_font=SANS,
        text_font_size="12px", text_color="#a8a8a8", text_baseline="middle", text_align="center")
hxm = gx(hover_day, hover_min)
pC.quad(left=[hxm], right=[hxm + 55 * U], bottom=[YC(137)], top=[YC(120)], fill_color="#2c2c2c", line_color=None)
pC.text(x=[hxm + 27.5 * U], y=[YC(128.5)], text=[hover_time], text_font=SANS, text_font_size="12px",
        text_color="#c8c8c8", text_baseline="middle", text_align="center")
pC.segment(x0=[X(0)], x1=[X(W)], y0=[YC(138.5)], y1=[YC(138.5)], line_color="#333333", line_width=1.5)

layout = column(pA, pB, pC, spacing=0)
open("out.html", "w").write(file_html(layout, INLINE, title="新疆板块 分时"))
